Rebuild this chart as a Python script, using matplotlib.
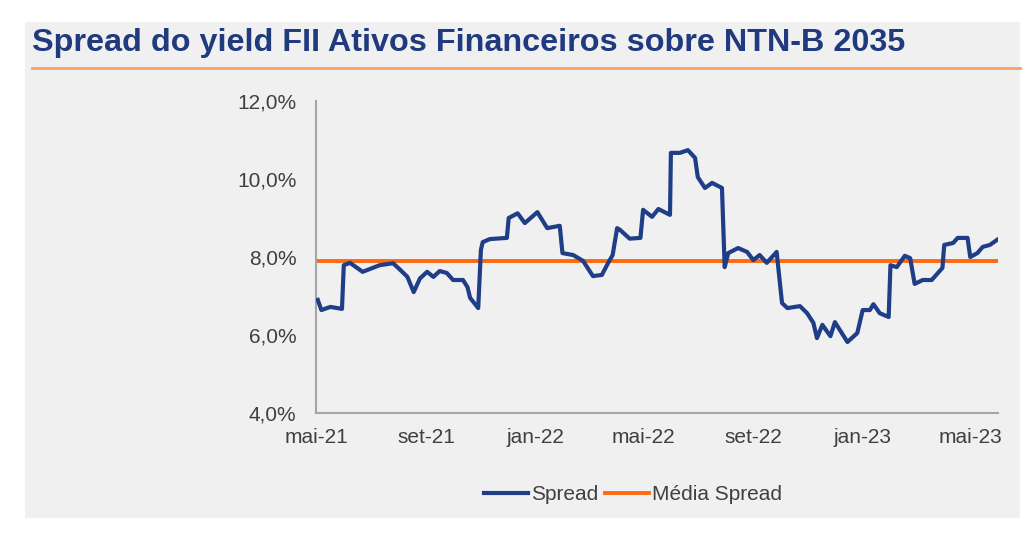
import matplotlib
matplotlib.use("Agg")
import matplotlib.pyplot as plt
from matplotlib.patches import Rectangle
from matplotlib.lines import Line2D
import pandas as pd

# Spread diário, em %
datas = [
    "2021-05-03", "2021-05-07", "2021-05-17", "2021-05-30", "2021-06-01", "2021-06-08",
    "2021-06-22", "2021-07-11", "2021-07-26", "2021-08-03", "2021-08-11", "2021-08-18",
    "2021-08-25", "2021-09-02", "2021-09-09", "2021-09-16", "2021-09-24", "2021-10-01",
    "2021-10-12", "2021-10-17", "2021-10-20", "2021-10-29", "2021-11-01", "2021-11-03",
    "2021-11-11", "2021-11-30", "2021-12-02", "2021-12-12", "2021-12-20", "2022-01-03",
    "2022-01-14", "2022-01-28", "2022-01-31", "2022-02-12", "2022-02-23", "2022-03-06",
    "2022-03-16", "2022-03-23", "2022-03-28", "2022-04-02", "2022-04-05", "2022-04-16",
    "2022-04-28", "2022-05-01", "2022-05-11", "2022-05-18", "2022-05-31", "2022-06-01",
    "2022-06-11", "2022-06-20", "2022-06-28", "2022-07-01", "2022-07-09", "2022-07-17",
    "2022-07-28", "2022-07-31", "2022-08-04", "2022-08-15", "2022-08-25", "2022-09-01",
    "2022-09-08", "2022-09-16", "2022-09-27", "2022-10-03", "2022-10-09", "2022-10-23",
    "2022-10-31", "2022-11-07", "2022-11-11", "2022-11-17", "2022-11-26", "2022-12-01",
    "2022-12-15", "2022-12-26", "2023-01-01", "2023-01-09", "2023-01-13", "2023-01-20",
    "2023-01-30", "2023-02-01", "2023-02-08", "2023-02-17", "2023-02-23", "2023-02-28",
    "2023-03-09", "2023-03-19", "2023-03-31", "2023-04-02", "2023-04-12", "2023-04-17",
    "2023-04-28", "2023-05-01", "2023-05-09", "2023-05-15", "2023-05-23", "2023-05-31",
]
spread = [
    6.90, 6.64, 6.72, 6.67, 7.79, 7.85,
    7.62, 7.79, 7.84, 7.67, 7.49, 7.10,
    7.45, 7.62, 7.49, 7.64, 7.59, 7.41,
    7.41, 7.23, 6.95, 6.69, 8.18, 8.38,
    8.46, 8.49, 9.00, 9.12, 8.87, 9.15,
    8.74, 8.80, 8.10, 8.05, 7.90, 7.51,
    7.54, 7.85, 8.05, 8.74, 8.70, 8.47,
    8.49, 9.21, 9.03, 9.23, 9.08, 10.67,
    10.67, 10.74, 10.54, 10.05, 9.77, 9.90,
    9.77, 7.74, 8.10, 8.23, 8.13, 7.92,
    8.05, 7.85, 8.13, 6.82, 6.69, 6.74,
    6.56, 6.31, 5.92, 6.26, 5.97, 6.33,
    5.82, 6.05, 6.64, 6.64, 6.79, 6.56,
    6.46, 7.79, 7.74, 8.03, 7.97, 7.31,
    7.41, 7.41, 7.72, 8.31, 8.36, 8.49,
    8.49, 8.00, 8.10, 8.26, 8.31, 8.44,
]
media_spread = 7.9

titulo = "Spread do yield FII Ativos Financeiros sobre NTN-B 2035"
meses_pt = ["jan", "fev", "mar", "abr", "mai", "jun",
            "jul", "ago", "set", "out", "nov", "dez"]

azul = "#1f3e87"
laranja = "#ff6a10"

plt.rcParams["font.family"] = ["Liberation Sans", "DejaVu Sans"]

fig = plt.figure(figsize=(10.36, 5.40), dpi=100)
fig.patch.set_facecolor("white")

# painel cinza de fundo
fig.patches.append(Rectangle((25 / 1036, 1 - 518 / 540), 995 / 1036, 496 / 540,
                             transform=fig.transFigure, facecolor="#f0f0f0",
                             edgecolor="none", zorder=-10))

fig.text(32 / 1036, 1 - 43 / 540, titulo, fontsize=23.3, fontweight="bold",
         color="#1f3a7e", va="center", ha="left")
fig.add_artist(Line2D([32 / 1036, 1020 / 1036], [1 - 68 / 540, 1 - 68 / 540],
                      transform=fig.transFigure, color="#f5a066", lw=2))

ax = fig.add_axes([316 / 1036, 1 - 413 / 540, 682 / 1036, 312 / 540])
ax.set_facecolor("none")

x = pd.to_datetime(datas)
ax.plot(x, spread, color=azul, lw=3.0, label="Spread", zorder=3)
ax.axhline(media_spread, color=laranja, lw=2.8, label="Média Spread", zorder=2)

ax.set_ylim(4, 12)
ax.set_yticks([4, 6, 8, 10, 12])
ax.yaxis.set_major_formatter(plt.FuncFormatter(lambda v, p: f"{v:.1f}%".replace(".", ",")))

ax.set_xlim(pd.Timestamp("2021-05-01"), pd.Timestamp("2023-06-01"))
ticks = pd.date_range("2021-05-01", "2023-05-01", freq="4MS")
ax.set_xticks(ticks)
ax.set_xticklabels([f"{meses_pt[t.month - 1]}-{t.year % 100:02d}" for t in ticks])

for s in ["top", "right"]:
    ax.spines[s].set_visible(False)
for s in ["left", "bottom"]:
    ax.spines[s].set_color("#a6a6a6")
    ax.spines[s].set_linewidth(1.5)
ax.tick_params(axis="both", length=0, labelsize=15, colors="#404040")
ax.tick_params(axis="y", pad=14)
ax.tick_params(axis="x", pad=11)

fig.legend(loc="center", bbox_to_anchor=(633 / 1036, 1 - 495 / 540), ncol=2,
           frameon=False, fontsize=15, handlelength=2.1, handletextpad=0.15,
           columnspacing=0.35, labelcolor="#404040")

fig.savefig("out.png", dpi=100, facecolor=fig.get_facecolor())
